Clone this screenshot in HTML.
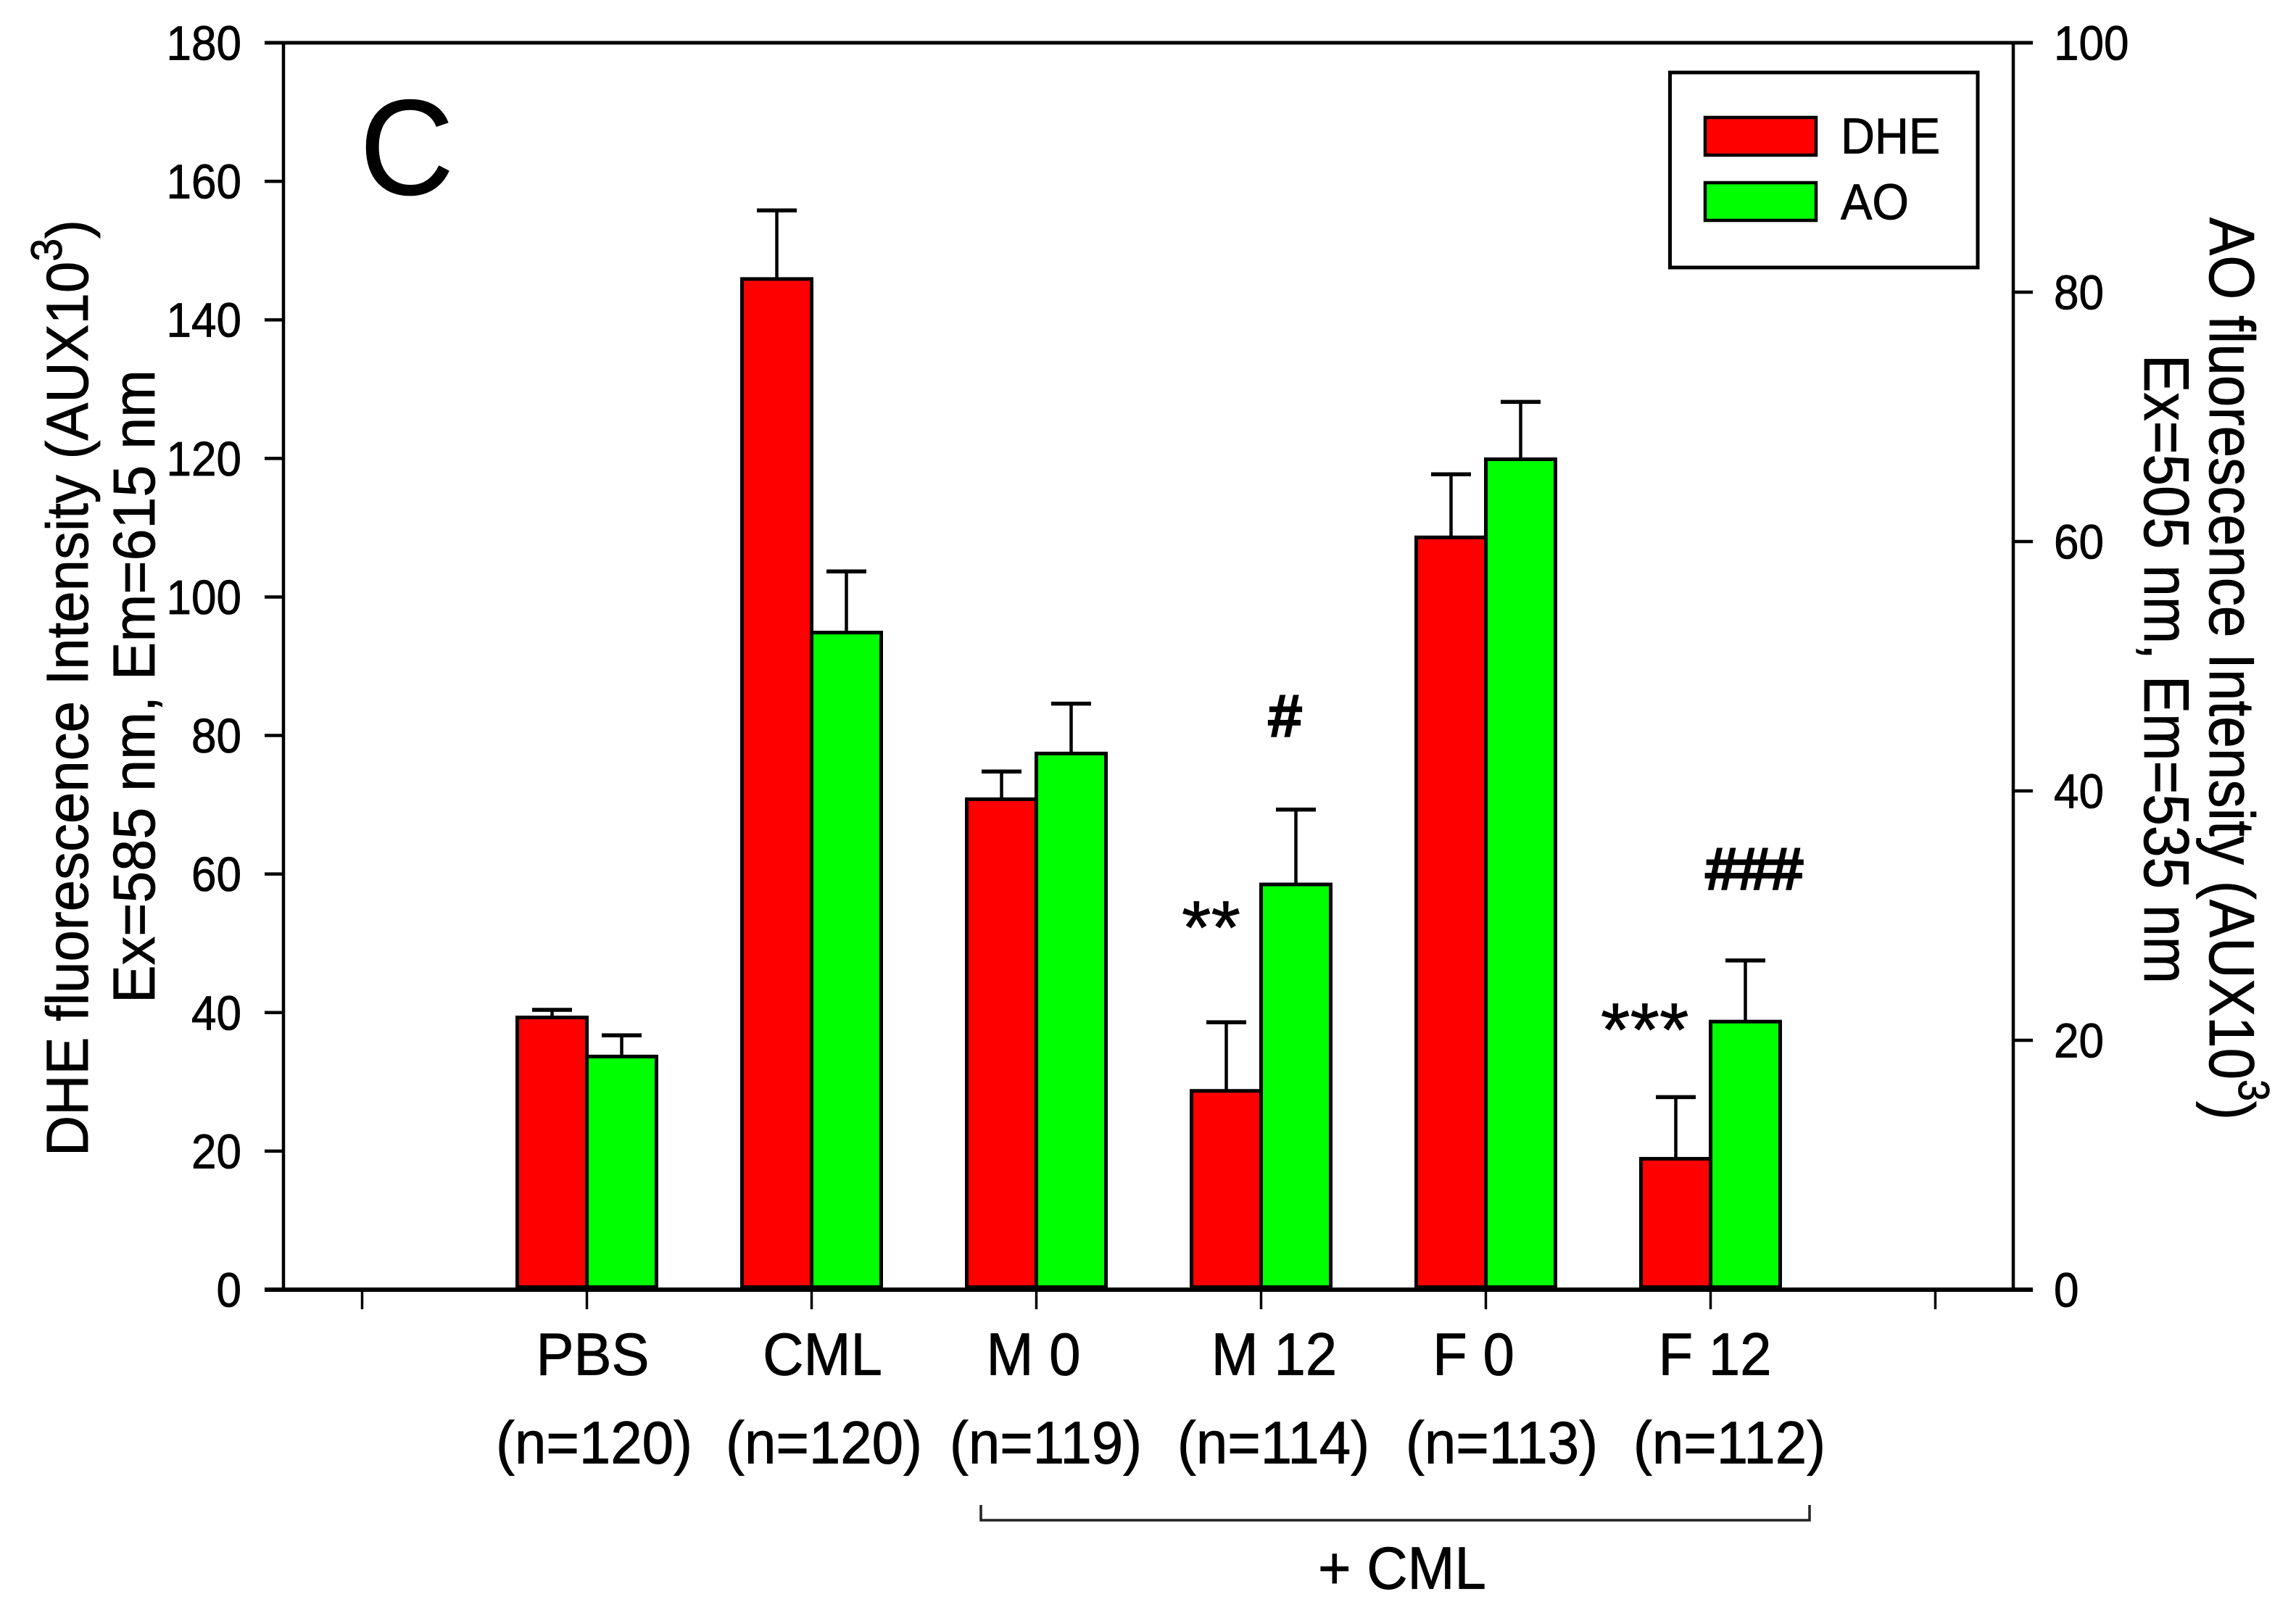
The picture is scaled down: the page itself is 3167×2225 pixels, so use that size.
<!DOCTYPE html>
<html>
<head>
<meta charset="utf-8">
<title>DHE and AO fluorescence intensity</title>
<style>
html,body{margin:0;padding:0;background:#fff}
svg{display:block}
text{font-family:"Liberation Sans",Arial,sans-serif;fill:#000;stroke:#000;stroke-width:0.8px}
</style>
</head>
<body>
<svg id="chart" xmlns="http://www.w3.org/2000/svg" width="3167" height="2225" viewBox="0 0 3167 2225">
  <rect x="0" y="0" width="3167" height="2225" fill="#fff"/>
  <g id="bars"></g>
  <g id="axes"></g>
  <g id="labels"></g>

  <text transform="translate(496,268) scale(0.99,1.03)" font-size="182">C</text>

  <text transform="translate(121,1595) rotate(-90)" font-size="82" textLength="1292" lengthAdjust="spacingAndGlyphs">DHE fluorescence Intensity (AUX10<tspan dy="-36" font-size="60">3</tspan><tspan dy="36">)</tspan></text>
  <text transform="translate(213,1384) rotate(-90)" font-size="82" textLength="874" lengthAdjust="spacingAndGlyphs">Ex=585 nm, Em=615 nm</text>

  <text transform="translate(3048,300) rotate(90)" font-size="88" textLength="1245" lengthAdjust="spacingAndGlyphs">AO fluorescence Intensity (AUX10<tspan dy="-40" font-size="60">3</tspan><tspan dy="40">)</tspan></text>
  <text transform="translate(2958,489) rotate(90)" font-size="88" textLength="868" lengthAdjust="spacingAndGlyphs">Ex=505 nm, Em=535 nm</text>

  <g>
    <rect x="2303.5" y="100" width="424.5" height="269" fill="#fff" stroke="#000" stroke-width="5"/>
    <rect x="2352" y="162" width="153" height="52" fill="#ff0000" stroke="#000" stroke-width="4.5"/>
    <text transform="translate(2539,211.5) scale(1,1.07)" font-size="65">DHE</text>
    <rect x="2352" y="252" width="153" height="52" fill="#00ff00" stroke="#000" stroke-width="4.5"/>
    <text transform="translate(2539,302.5) scale(1,1.07)" font-size="65">AO</text>
  </g>

  <text x="1772.5" y="1015" text-anchor="middle" font-size="80" style="stroke-width:3.5px">#</text>
  <text x="2353" y="1226" font-size="80" style="stroke-width:3.5px">###</text>
  <text x="1630" y="1315" font-size="104">**</text>
  <text x="2208" y="1456" font-size="104">***</text>

  <path d="M1353 2076V2097H2496V2076" fill="none" stroke="#222" stroke-width="3.5"/>
  <text transform="translate(1818,2191.5) scale(1,1.06)" font-size="78">+ CML</text>
</svg>

<script>
// Chart data
const categories = ["PBS", "CML", "M 0", "M 12", "F 0", "F 12"];
const sampleSizes = ["(n=120)", "(n=120)", "(n=119)", "(n=114)", "(n=113)", "(n=112)"];
const dheValues = [39.3, 145.9, 70.8, 28.7, 108.6, 18.9];   // left axis units
const dheErrorTops = [40.4, 155.8, 74.8, 38.6, 117.7, 27.8];
const aoValues = [18.7, 52.7, 43.0, 32.5, 66.6, 21.5];      // right axis units
const aoErrorTops = [20.4, 57.6, 47.0, 38.5, 71.2, 26.4];
const leftTicks = [0, 20, 40, 60, 80, 100, 120, 140, 160, 180];
const rightTicks = [0, 20, 40, 60, 80, 100];
const xTickSlots = [0, 1, 2, 3, 4, 5, 6, 7];

// Axis functions
const LEFT_MAX = 180, RIGHT_MAX = 100;
const PLOT_BOTTOM = 1779, PLOT_TOP = 59, PLOT_LEFT = 391, PLOT_RIGHT = 2777;
const yLeft = v => PLOT_BOTTOM - (v / LEFT_MAX) * (PLOT_BOTTOM - PLOT_TOP);
const yRight = v => PLOT_BOTTOM - (v / RIGHT_MAX) * (PLOT_BOTTOM - PLOT_TOP);
const xSlot = i => 499.5 + 310 * i;
const xCategory = i => xSlot(i + 1);
const BAR_W = 96, CAP_W = 55;
const labelNudgeTop = [8, 15, -4, 18, -17, 6];
const labelNudgeBottom = [10, 17, 13, 17, 22, 26];

const NS = "http://www.w3.org/2000/svg";
const barsLayer = document.getElementById("bars");
const axesLayer = document.getElementById("axes");
const labelsLayer = document.getElementById("labels");

function line(parent, x1, y1, x2, y2, w) {
  const el = document.createElementNS(NS, "line");
  el.setAttribute("x1", x1);
  el.setAttribute("y1", y1);
  el.setAttribute("x2", x2);
  el.setAttribute("y2", y2);
  el.setAttribute("stroke", "#000");
  el.setAttribute("stroke-width", w);
  parent.appendChild(el);
  return el;
}
function bar(x, top, fill) {
  const el = document.createElementNS(NS, "rect");
  el.setAttribute("x", x);
  el.setAttribute("y", top);
  el.setAttribute("width", BAR_W);
  el.setAttribute("height", Math.max(0, PLOT_BOTTOM - 3.5 - top));
  el.setAttribute("fill", fill);
  el.setAttribute("stroke", "#000");
  el.setAttribute("stroke-width", 5);
  barsLayer.appendChild(el);
  return el;
}
function label(text, x, y, anchor, size, sy) {
  const el = document.createElementNS(NS, "text");
  el.textContent = text;
  el.setAttribute("transform", "translate(" + x + "," + y + ") scale(1," + sy + ")");
  el.setAttribute("text-anchor", anchor);
  el.setAttribute("font-size", size);
  labelsLayer.appendChild(el);
  return el;
}

// Bars and error bars
categories.forEach((c, i) => {
  const mid = xCategory(i);
  const stemD = line(barsLayer, mid - BAR_W / 2, yLeft(dheErrorTops[i]), mid - BAR_W / 2, yLeft(dheValues[i]), 4.5);
  
  
  const capD = line(barsLayer, mid - BAR_W / 2 - CAP_W / 2, yLeft(dheErrorTops[i]), mid - BAR_W / 2 + CAP_W / 2, yLeft(dheErrorTops[i]), 5.5);
  
  
  const stemA = line(barsLayer, mid + BAR_W / 2, yRight(aoErrorTops[i]), mid + BAR_W / 2, yRight(aoValues[i]), 4.5);
  
  
  const capA = line(barsLayer, mid + BAR_W / 2 - CAP_W / 2, yRight(aoErrorTops[i]), mid + BAR_W / 2 + CAP_W / 2, yRight(aoErrorTops[i]), 5.5);
  
  
  const r = bar(mid - BAR_W, yLeft(dheValues[i]), "#ff0000");
  
  
  const g = bar(mid, yRight(aoValues[i]), "#00ff00");
  
  
});

// Axes
const axisLeft = line(axesLayer, PLOT_LEFT, PLOT_TOP, PLOT_LEFT, PLOT_BOTTOM, 4.5);


const axisRight = line(axesLayer, PLOT_RIGHT, PLOT_TOP, PLOT_RIGHT, PLOT_BOTTOM, 4.5);


const axisTop = line(axesLayer, 365, PLOT_TOP, 2804, PLOT_TOP, 5);


const axisBottom = line(axesLayer, 365, PLOT_BOTTOM, 2804, PLOT_BOTTOM, 6);



leftTicks.forEach(v => {
  const t = line(axesLayer, 365, yLeft(v), PLOT_LEFT, yLeft(v), 4.5);
  
  
  const l = label(String(v), 333, yLeft(v) + 23.5, "end", 62, 1.08);
  
  
});
rightTicks.forEach(v => {
  const t = line(axesLayer, PLOT_RIGHT, yRight(v), 2804, yRight(v), 4.5);
  
  
  const l = label(String(v), 2833, yRight(v) + 23.5, "start", 62, 1.08);
  
  
});
xTickSlots.forEach(i => {
  const t = line(axesLayer, xSlot(i), PLOT_BOTTOM, xSlot(i), 1806, 3.5);
  
  
});
categories.forEach((c, i) => {
  const l = label(c, xCategory(i) + labelNudgeTop[i], 1896.5, "middle", 78, 1.06);
  
  
  const n = label(sampleSizes[i], xCategory(i) + labelNudgeBottom[i], 2018.5, "middle", 78, 1.06);
  
  
});
</script>
</body>
</html>
